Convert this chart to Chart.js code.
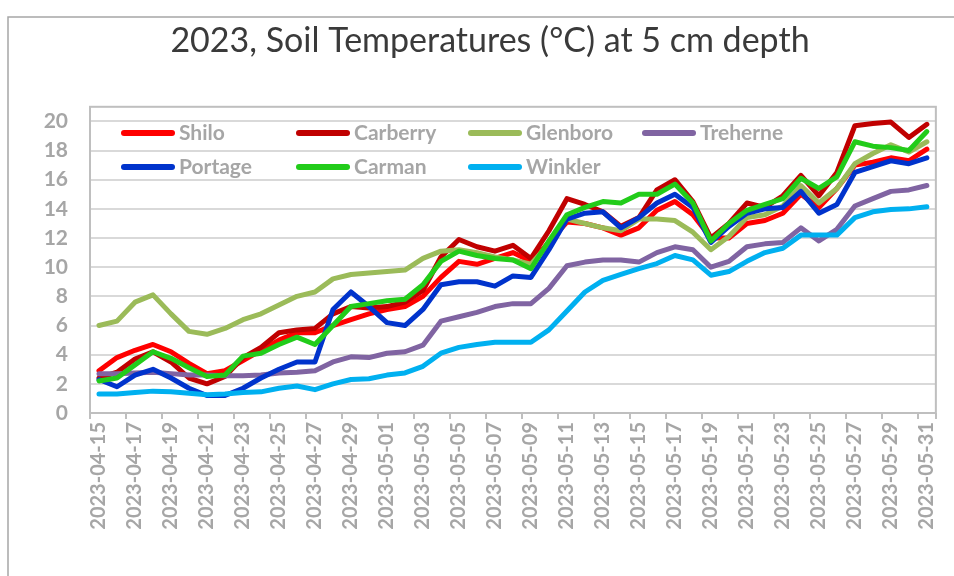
<!DOCTYPE html>
<html>
<head>
<meta charset="utf-8">
<title>2023, Soil Temperatures at 5 cm depth</title>
<style>
html, body { margin: 0; padding: 0; background: #fff; overflow: hidden; }
#wrap { position: relative; width: 954px; height: 576px; }
#chart { position: absolute; left: 0; top: 0; }
.key { position: absolute; width: 54px; height: 6px; border-radius: 3px; }
.name { position: absolute; font: bold 21px Lato, sans-serif; color: #A6A6A6; line-height: 24px; white-space: nowrap; }
</style>
<script src="https://cdn.jsdelivr.net/npm/chart.js@4.4.0/dist/chart.umd.min.js"></script>
</head>
<body>
<div id="wrap">
	<canvas id="chart" width="954" height="576"></canvas>
	<div id="legend"></div>
</div>
<script>
'use strict';

// days shown on the category axis
const dates = [
	'2023-04-15','2023-04-16','2023-04-17','2023-04-18','2023-04-19','2023-04-20','2023-04-21','2023-04-22',
	'2023-04-23','2023-04-24','2023-04-25','2023-04-26','2023-04-27','2023-04-28','2023-04-29','2023-04-30',
	'2023-05-01','2023-05-02','2023-05-03','2023-05-04','2023-05-05','2023-05-06','2023-05-07','2023-05-08',
	'2023-05-09','2023-05-10','2023-05-11','2023-05-12','2023-05-13','2023-05-14','2023-05-15','2023-05-16',
	'2023-05-17','2023-05-18','2023-05-19','2023-05-20','2023-05-21','2023-05-22','2023-05-23','2023-05-24',
	'2023-05-25','2023-05-26','2023-05-27','2023-05-28','2023-05-29','2023-05-30','2023-05-31'
];
const yTicks = [0, 2, 4, 6, 8, 10, 12, 14, 16, 18, 20];

const names = ['Shilo', 'Carberry', 'Glenboro', 'Treherne', 'Portage', 'Carman', 'Winkler'];
const colors = ['#FF0000', '#C00000', '#9BBB59', '#8064A2', '#0033CC', '#22CC1A', '#00B0F0'];

// soil temperature (°C), one value per day
const shilo = [2.9, 3.8, 4.3, 4.7, 4.2, 3.4, 2.7, 2.9, 3.6, 4.3, 5.0, 5.5, 5.5, 6.0, 6.4, 6.8, 7.1, 7.3, 8.0, 9.3, 10.4, 10.2, 10.6, 11.0, 10.4, 11.7, 13.1, 13.0, 12.7, 12.2, 12.7, 13.9, 14.5, 13.6, 12.0, 12.0, 13.0, 13.2, 13.7, 15.0, 14.1, 15.4, 17.0, 17.2, 17.5, 17.3, 18.1];
const carberry = [2.4, 2.8, 3.7, 4.2, 3.5, 2.4, 2.0, 2.5, 3.8, 4.5, 5.5, 5.7, 5.8, 6.8, 7.3, 7.2, 7.3, 7.6, 8.4, 10.7, 11.9, 11.4, 11.1, 11.5, 10.6, 12.5, 14.7, 14.3, 13.8, 12.8, 13.4, 15.3, 16.0, 14.5, 12.0, 13.0, 14.4, 14.1, 14.9, 16.3, 14.9, 16.5, 19.7, 19.85, 19.95, 18.9, 19.8];
const glenboro = [6.0, 6.3, 7.6, 8.1, 6.8, 5.6, 5.4, 5.8, 6.4, 6.8, 7.4, 8.0, 8.3, 9.2, 9.5, 9.6, 9.7, 9.8, 10.6, 11.1, 11.2, 11.0, 10.7, 10.5, 10.2, 11.6, 13.3, 13.0, 12.7, 12.5, 13.3, 13.3, 13.2, 12.4, 11.2, 12.1, 13.4, 13.6, 14.2, 15.6, 14.4, 15.4, 17.1, 17.8, 18.4, 17.9, 18.6];
const treherne = [2.7, 2.7, 2.75, 2.8, 2.7, 2.6, 2.6, 2.55, 2.55, 2.6, 2.75, 2.8, 2.9, 3.5, 3.85, 3.8, 4.1, 4.2, 4.65, 6.3, 6.6, 6.9, 7.3, 7.5, 7.5, 8.55, 10.1, 10.35, 10.5, 10.5, 10.35, 11.0, 11.4, 11.2, 10.0, 10.4, 11.4, 11.6, 11.7, 12.7, 11.8, 12.6, 14.2, 14.7, 15.2, 15.3, 15.6];
const portage = [2.3, 1.8, 2.6, 3.0, 2.4, 1.7, 1.2, 1.2, 1.7, 2.4, 3.0, 3.5, 3.5, 7.1, 8.3, 7.3, 6.2, 6.0, 7.1, 8.8, 9.0, 9.0, 8.7, 9.4, 9.3, 11.2, 13.3, 13.7, 13.8, 12.7, 13.4, 14.4, 15.0, 14.1, 11.7, 12.8, 13.7, 14.0, 14.1, 15.2, 13.7, 14.3, 16.5, 16.9, 17.3, 17.1, 17.5];
const carman = [2.2, 2.4, 3.3, 4.2, 3.75, 3.1, 2.5, 2.6, 3.9, 4.1, 4.7, 5.2, 4.7, 6.0, 7.3, 7.5, 7.7, 7.8, 8.8, 10.4, 11.1, 10.8, 10.6, 10.5, 9.9, 11.8, 13.6, 14.1, 14.5, 14.4, 15.0, 15.0, 15.7, 14.4, 11.8, 13.0, 13.9, 14.3, 14.7, 16.1, 15.4, 16.2, 18.6, 18.3, 18.2, 18.0, 19.3];
const winkler = [1.3, 1.3, 1.4, 1.5, 1.45, 1.35, 1.25, 1.3, 1.4, 1.45, 1.7, 1.85, 1.6, 2.0, 2.3, 2.35, 2.6, 2.75, 3.2, 4.1, 4.5, 4.7, 4.85, 4.85, 4.85, 5.7, 7.0, 8.3, 9.1, 9.5, 9.9, 10.25, 10.8, 10.5, 9.45, 9.7, 10.4, 11.0, 11.3, 12.2, 12.2, 12.2, 13.4, 13.8, 13.95, 14.0, 14.15];

const series = [shilo, carberry, glenboro, treherne, portage, carman, winkler];

//------- [ LEGEND ] --------
// excel-like grid legend sitting inside the plot area
const fillLegend = () => {
	let legend = document.querySelector('#legend'),
		cols = [121, 296, 468, 642],
		rows = [133, 167],
		html = '';
	for (let i = 0; i < names.length; i++) {
		let x = cols[i % 4],
			y = rows[Math.floor(i / 4)];
		html += '<div class="key" style="left:' + x + 'px;top:' + (y - 3) + 'px;background:' + colors[i] + '"></div>';
		html += '<div class="name" style="left:' + (x + 58) + 'px;top:' + (y - 13) + 'px">' + names[i] + '</div>';
	}
	legend.innerHTML = html;
};

//------- [ CHART ] --------
const frame = {
	id: 'frame',
	beforeDraw: (chart) => {
		let c = chart.ctx;
		c.save();
		c.strokeStyle = '#A6A6A6';
		c.lineWidth = 1.5;
		c.beginPath();
		c.moveTo(8, 576);
		c.lineTo(8, 17);
		c.lineTo(954, 17);
		c.stroke();
		c.restore();
	},
	beforeDatasetsDraw: (chart) => {
		let c = chart.ctx,
			a = chart.chartArea;
		c.save();
		c.strokeStyle = '#BFBFBF';
		c.lineWidth = 2;
		c.strokeRect(a.left, a.top, a.right - a.left, a.bottom - a.top);
		c.restore();
	}
};

const createChart = () => {
	let ctx = document.getElementById('chart').getContext('2d');
	new Chart(ctx, {
		type: 'line',
		data: {
			labels: dates,
			datasets: series.map((d, i) => ({
				label: names[i],
				data: d,
				borderColor: colors[i],
				backgroundColor: colors[i],
				borderWidth: 5,
				pointRadius: 0,
				tension: 0,
				fill: false,
				borderJoinStyle: 'round',
				borderCapStyle: 'round',
				order: names.length - i
			}))
		},
		options: {
			responsive: false,
			animation: false,
			devicePixelRatio: 1,
			layout: { padding: { left: 39, right: 13, top: 0, bottom: 0 } },
			plugins: {
				legend: { display: false },
				tooltip: { enabled: false },
				title: {
					display: true,
					text: '2023, Soil Temperatures (°C) at 5 cm depth',
					color: '#3A3A3A',
					font: { family: 'Lato', size: 34, weight: 'normal', lineHeight: 1.2 },
					padding: { top: 21, bottom: 45 }
				}
			},
			scales: {
				x: {
					offset: true,
					afterFit: (s) => { s.height = 163; },
					border: { display: false },
					grid: {
						offset: true,
						drawOnChartArea: false,
						drawTicks: true,
						tickLength: 6,
						lineWidth: 2,
						color: (c) => c.index % 2 ? 'rgba(0,0,0,0)' : '#BFBFBF'
					},
					ticks: {
						autoSkip: false,
						maxRotation: 90,
						minRotation: 90,
						padding: 3,
						color: '#A6A6A6',
						font: { family: 'Lato', size: 20, weight: 'bold' },
						callback: (v, i) => i % 2 ? '' : dates[i]
					}
				},
				y: {
					min: 0,
					max: 21,
					afterFit: (s) => { s.width = 51; },
					afterBuildTicks: (axis) => { axis.ticks = yTicks.map(v => ({ value: v })); },
					border: { display: false },
					grid: {
						drawTicks: false,
						lineWidth: 2,
						color: (c) => c.tick && c.tick.value === 0 ? '#BFBFBF' : '#D9D9D9'
					},
					ticks: {
						padding: 22,
						color: '#A6A6A6',
						font: { family: 'Lato', size: 21, weight: 'bold' }
					}
				}
			}
		},
		plugins: [frame]
	});
};

window.addEventListener('load', () => {
	fillLegend();
	createChart();
});
</script>
</body>
</html>
